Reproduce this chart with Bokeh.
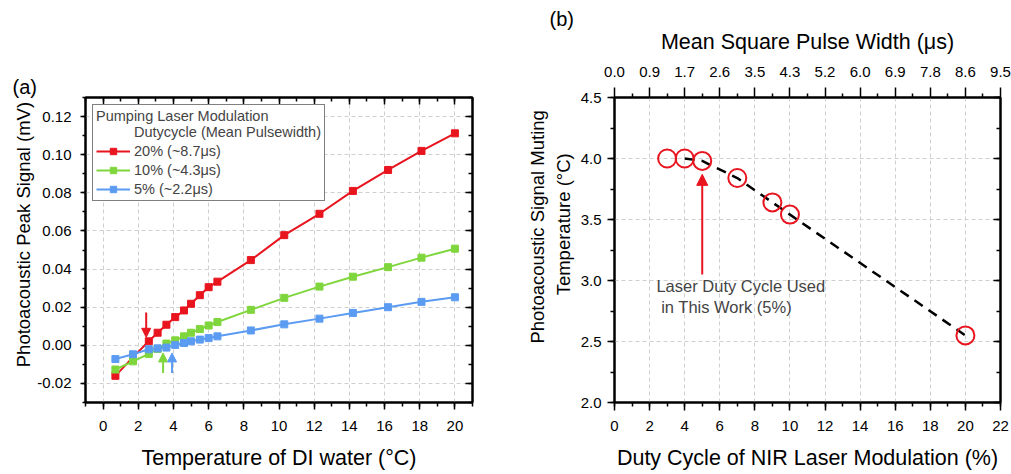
from bokeh.plotting import figure
from bokeh.models import (LinearAxis, SingleIntervalTicker, FixedTicker, NumeralTickFormatter,
                          CustomJSTickFormatter, Legend, LegendItem, Label, Arrow, NormalHead, Range1d)
from bokeh.layouts import row
from bokeh.embed import file_html
from bokeh.resources import INLINE

FONT = "Liberation Sans"
NB = "\u00a0"

# ---------------- data: panel (a) ----------------
temperature_c = [0.7, 1.7, 2.6, 3.1, 3.6, 4.1, 4.6, 5.0, 5.5, 6.0, 6.5, 8.4, 10.3, 12.3, 14.2, 16.2, 18.1, 20.0]
signal_20pct = [-0.0160, -0.0062, 0.0021, 0.0066, 0.0108, 0.0148, 0.0183, 0.0218, 0.0263, 0.0305, 0.0334,
                0.0447, 0.0578, 0.0690, 0.0810, 0.0920, 0.1020, 0.1112]
signal_10pct = [-0.0127, -0.0084, -0.0045, -0.0019, 0.0009, 0.0026, 0.0047, 0.0066, 0.0085, 0.0104, 0.0122,
                0.0186, 0.0249, 0.0308, 0.0360, 0.0410, 0.0460, 0.0507]
signal_5pct = [-0.0072, -0.0047, -0.0021, -0.0016, -0.0012, 0.0002, 0.0012, 0.0021, 0.0030, 0.0038, 0.0047,
               0.0078, 0.0110, 0.0140, 0.0170, 0.0200, 0.0228, 0.0252]
series_labels = ["20% (~8.7\u03bcs)", "10% (~4.3\u03bcs)", "5% (~2.2\u03bcs)"]
series_colors = ["#E8141E", "#7FD63C", "#5B9CF2"]

# ---------------- data: panel (b) ----------------
duty_cycle = [3, 4, 5, 7, 9, 10, 20]
muting_temp = [4.0, 4.0, 3.98, 3.84, 3.64, 3.54, 2.55]
duty_ticks = [0, 2, 4, 6, 8, 10, 12, 14, 16, 18, 20, 22]
duty_minor = [1, 3, 5, 7, 9, 11, 13, 15, 17, 19, 21]
pulse_width_labels = ["0.0", "0.9", "1.7", "2.6", "3.5", "4.3", "5.2", "6.0", "6.9", "7.8", "8.6", "9.5"]

RED = "#E8141E"


def base_axis(ax, tick_out=7, tick_in=0, minor_out=4, minor_in=0, vertical=False):
    ax.axis_line_width = 2
    ax.axis_line_color = "black"
    ax.major_tick_line_width = 1.5
    ax.minor_tick_line_width = 1.5
    ax.major_tick_line_color = "black"
    ax.minor_tick_line_color = "black"
    ax.major_tick_out = tick_out
    ax.major_tick_in = tick_in
    ax.minor_tick_out = minor_out
    ax.minor_tick_in = minor_in
    ax.major_label_text_font = FONT
    ax.major_label_text_font_size = "15px"
    ax.major_label_text_color = "black"
    ax.axis_label_text_font = FONT
    ax.axis_label_text_font_size = "18.5px" if vertical else "21.5px"
    ax.axis_label_text_font_style = "normal"
    ax.axis_label_text_color = "black"


def mirror_axis(ax, standoff=0):
    base_axis(ax, tick_out=0, tick_in=7, minor_out=0, minor_in=4)
    ax.formatter = CustomJSTickFormatter(code="return ''")
    ax.major_label_standoff = standoff
    ax.axis_label = None


def style_grid(p):
    for g in (p.xgrid, p.ygrid):
        g.grid_line_color = "#cfcfcf"
        g.grid_line_dash = "4 3"
        g.grid_line_width = 1


def panel_tag(p, text, offset, standoff):
    p.title.text = text
    p.title.align = "left"
    p.title.offset = offset
    p.title.standoff = standoff
    p.title.text_font = FONT
    p.title.text_font_size = "20px"
    p.title.text_font_style = "normal"
    p.title.text_color = "black"


# ================= panel (a) =================
p1 = figure(frame_width=387, frame_height=305, min_border_left=85, min_border_right=48,
            min_border_top=97, min_border_bottom=72,
            x_range=Range1d(-1, 21), y_range=Range1d(-0.03, 0.13),
            output_backend="svg", toolbar_location=None)
p1.outline_line_color = "black"
p1.outline_line_width = 2

xt1 = SingleIntervalTicker(interval=2, num_minor_ticks=2)
yt1 = SingleIntervalTicker(interval=0.02, num_minor_ticks=2)
p1.xaxis.ticker = xt1
p1.yaxis.ticker = yt1
p1.yaxis.formatter = NumeralTickFormatter(format="0.00")
p1.xaxis.axis_label = "Temperature of DI water (\u00b0C)"
p1.yaxis.axis_label = NB * 6 + "Photoacoustic Peak Signal (mV)"
base_axis(p1.xaxis[0])
base_axis(p1.yaxis[0], tick_out=5, minor_out=3, vertical=True)
p1.xaxis.major_label_standoff = 11
p1.xaxis.axis_label_standoff = 12
p1.yaxis.major_label_standoff = 9
p1.yaxis.axis_label_standoff = 0

# mirror top axis; its (empty) label standoff lifts the panel tag toward the page top
top1 = LinearAxis(ticker=SingleIntervalTicker(interval=2, num_minor_ticks=2))
mirror_axis(top1, standoff=57)
p1.add_layout(top1, "above")
right1 = LinearAxis(ticker=SingleIntervalTicker(interval=0.02, num_minor_ticks=2))
mirror_axis(right1)
p1.add_layout(right1, "right")
style_grid(p1)
p1.xgrid.ticker = xt1
p1.ygrid.ticker = yt1
panel_tag(p1, "(a)", -73, 0)

# invisible renderer that carries the legend's second heading line
heading = p1.line(x=[], y=[], line_alpha=0)
items = [LegendItem(label="Dutycycle (Mean Pulsewidth)", renderers=[heading])]
for ys, lab, col in zip([signal_20pct, signal_10pct, signal_5pct], series_labels, series_colors):
    ln = p1.line(temperature_c, ys, line_color=col, line_width=2)
    sc = p1.scatter(temperature_c, ys, marker="square", size=7, fill_color=col, line_color=col)
    items.append(LegendItem(label=lab, renderers=[ln, sc]))

legend = Legend(items=items, location="top_left", title="Pumping Laser Modulation",
                margin=7, padding=3, spacing=3, label_standoff=4,
                glyph_width=34, glyph_height=16, label_height=16, label_width=181,
                title_standoff=0,
                label_text_font=FONT, label_text_font_size="14.5px",
                title_text_font=FONT, title_text_font_size="14.5px", title_text_font_style="normal",
                border_line_color="black", border_line_width=1,
                background_fill_color="white", background_fill_alpha=1)
p1.add_layout(legend)

# arrows marking signal-muting temperatures
arrow_specs = [(2.45, 0.0172, 0.0042, series_colors[0]),
               (3.41, -0.0145, -0.0040, series_colors[1]),
               (3.92, -0.0145, -0.0040, series_colors[2])]
for ax_, y0, y1, col in arrow_specs:
    p1.add_layout(Arrow(end=NormalHead(size=9, fill_color=col, line_color=col),
                        x_start=ax_, y_start=y0, x_end=ax_, y_end=y1,
                        line_color=col, line_width=2))

# ================= panel (b) =================
p2 = figure(frame_width=386, frame_height=305, min_border_left=94, min_border_right=11,
            min_border_top=97, min_border_bottom=72,
            x_range=Range1d(0, 22), y_range=Range1d(2.0, 4.5),
            output_backend="svg", toolbar_location=None)
p2.outline_line_color = "black"
p2.outline_line_width = 2

xt2 = SingleIntervalTicker(interval=2, num_minor_ticks=2)
yt2 = SingleIntervalTicker(interval=0.5, num_minor_ticks=2)
p2.xaxis.ticker = xt2
p2.yaxis.ticker = yt2
p2.yaxis.formatter = NumeralTickFormatter(format="0.0")
p2.xaxis.axis_label = "Duty Cycle of NIR Laser Modulation (%)"
p2.yaxis.axis_label = NB * 9 + "Photoacoustic Signal Muting\n" + NB * 10 + "Temperature (\u00b0C)"
base_axis(p2.xaxis[0], tick_out=8)
base_axis(p2.yaxis[0], tick_out=7, vertical=True)
p2.xaxis.major_label_standoff = 10
p2.xaxis.axis_label_standoff = 12
p2.yaxis.major_label_standoff = 6
p2.yaxis.axis_label_standoff = 4

top2 = LinearAxis(ticker=FixedTicker(ticks=duty_ticks, minor_ticks=duty_minor),
                  major_label_overrides={t: l for t, l in zip(duty_ticks, pulse_width_labels)},
                  axis_label="Mean Square Pulse Width (\u03bcs)")
base_axis(top2, tick_out=10, minor_out=4)
top2.major_label_standoff = 11
top2.axis_label_standoff = 10
p2.add_layout(top2, "above")
right2 = LinearAxis(ticker=SingleIntervalTicker(interval=0.5, num_minor_ticks=2))
mirror_axis(right2)
p2.add_layout(right2, "right")
style_grid(p2)
p2.xgrid.ticker = xt2
p2.ygrid.ticker = yt2
panel_tag(p2, "(b)", -65, -6)

p2.line(duty_cycle[1:], muting_temp[1:], line_color="black", line_width=2.5, line_dash="10 7")
p2.scatter(duty_cycle, muting_temp, marker="circle", size=18, fill_color=None,
           line_color=RED, line_width=2)

p2.add_layout(Arrow(end=NormalHead(size=11, fill_color=RED, line_color=RED),
                    x_start=5, y_start=3.05, x_end=5, y_end=3.87,
                    line_color=RED, line_width=2))
p2.add_layout(Label(x=2.39, y=2.951, text="Laser Duty Cycle Used", text_font=FONT,
                    text_font_size="16.5px", text_baseline="middle", text_align="left"))
p2.add_layout(Label(x=2.66, y=2.779, text="in This Work (5%)", text_font=FONT,
                    text_font_size="16.5px", text_baseline="middle", text_align="left"))

layout = row(p1, p2)
open("out.html", "w").write(file_html(layout, INLINE))
